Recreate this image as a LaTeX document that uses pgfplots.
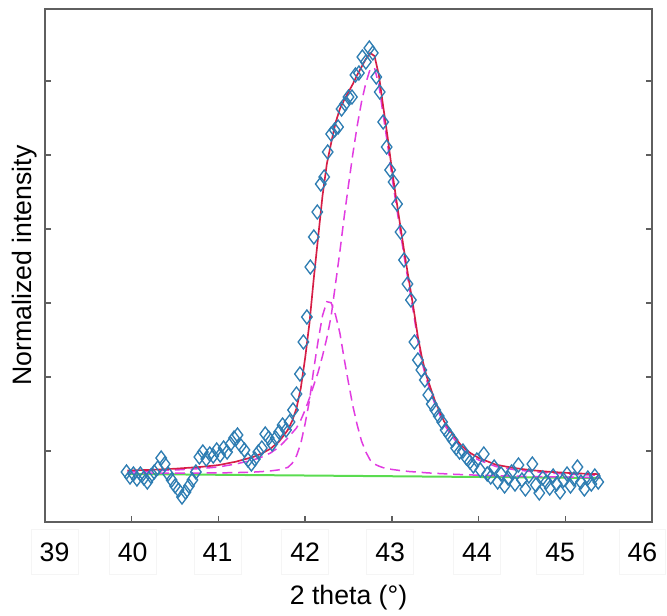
\documentclass[border=0pt]{standalone}
\usepackage{pgfplots}
\pgfplotsset{compat=1.18}
\usepackage{fontspec}
\setmainfont{Liberation Sans}
\definecolor{datablue}{RGB}{46,125,178}
\definecolor{fitred}{RGB}{214,30,70}
\definecolor{peakmag}{RGB}{225,60,225}
\definecolor{basegreen}{RGB}{90,220,80}
\definecolor{axgray}{RGB}{95,95,95}
\begin{document}
\begin{tikzpicture}
\useasboundingbox (-27pt,-55.8pt) rectangle (373.2pt,313.2pt);
\begin{axis}[
  at={(0,0)}, anchor=south west,
  scale only axis, width=364.2pt, height=307.8pt,
  xmin=39, xmax=46, ymin=0, ymax=513,
  /pgf/number format/assume math mode=true,
  axis line style={draw=axgray, line width=1.1pt},
  tick align=inside, major tick length=3.5pt,
  xtick pos=bottom,
  xtick={39.11,40.01,40.99,42.0,42.98,43.98,44.94,45.89},
  xticklabels={39,40,41,42,43,44,45,46},
  xtick style={draw=none},
  xticklabel style={font=\fontsize{16}{19}\selectfont, anchor=center, yshift=-18pt, draw=black!4, minimum width=28pt, minimum height=27pt},
  extra x ticks={40,41,42,43,44,45},
  extra x tick labels={},
  extra x tick style={xtick style={draw=axgray, line width=0.8pt}, xticklabel style={draw=none}},
  ytick={71,145,219,293,367,441},
  yticklabels={},
  ytick style={draw=axgray, line width=0.8pt},
  xlabel={2 theta (°)},
  xlabel style={font=\fontsize{16}{19}\selectfont, at={(axis description cs:0.5,-0.148)}, anchor=center},
  ylabel={Normalized intensity},
  ylabel style={font=\fontsize{16}{19}\selectfont, at={(axis description cs:-0.033,0.5)}, anchor=center},
]
% measured data
\addplot[only marks, mark=diamond, mark size=4.2pt, mark options={draw=datablue, fill=none, line width=0.8pt}] table {
x y
39.94 50
39.98 45
40.02 48
40.06 43
40.10 48
40.14 44
40.18 40
40.22 46
40.26 50
40.30 54
40.34 64
40.38 58
40.42 48
40.46 42
40.50 36
40.54 32
40.58 25
40.62 30
40.66 36
40.70 42
40.74 50
40.78 65
40.82 70
40.86 63
40.90 68
40.94 66
40.98 72
41.02 67
41.06 74
41.10 70
41.14 78
41.18 84
41.22 87
41.26 76
41.30 72
41.34 62
41.38 58
41.42 63
41.46 70
41.50 74
41.54 88
41.58 84
41.62 78
41.66 84
41.70 90
41.74 97
41.78 92
41.82 100
41.86 112
41.90 128
41.94 148
41.98 180
42.02 205
42.06 255
42.10 285
42.14 310
42.18 338
42.22 345
42.26 370
42.30 388
42.34 392
42.38 395
42.42 413
42.46 418
42.50 425
42.54 425
42.58 447
42.62 449
42.66 465
42.70 460
42.74 474
42.78 469
42.82 445
42.86 430
42.90 400
42.94 375
42.98 352
43.02 340
43.06 318
43.10 290
43.14 262
43.18 238
43.22 222
43.26 180
43.30 162
43.34 152
43.38 142
43.42 127
43.46 118
43.50 112
43.54 106
43.58 100
43.62 92
43.66 87
43.70 82
43.74 74
43.78 70
43.82 71
43.86 64
43.90 60
43.94 56
43.98 62
44.02 52
44.06 68
44.10 48
44.14 45
44.18 55
44.22 40
44.26 48
44.30 36
44.34 44
44.38 50
44.42 38
44.46 57
44.50 42
44.54 33
44.58 46
44.62 58
44.66 37
44.70 29
44.74 44
44.78 40
44.82 34
44.86 46
44.90 38
44.94 30
44.98 42
45.02 48
45.06 36
45.10 43
45.14 55
45.18 40
45.22 33
45.26 44
45.30 38
45.34 46
45.38 40
};
% baseline
\addplot[basegreen, line width=1.2pt] coordinates {(39.95,48) (45.4,44)};
% peak 1
\addplot[peakmag, line width=0.9pt, dash pattern=on 6pt off 3.5pt] table {
x y
39.95 50.5
40.2 51
40.5 52
40.8 53.5
41.0 55
41.2 58
41.4 62
41.5 65
41.6 69
41.7 75
41.8 84
41.85 89
41.9 94
41.95 102
42.0 112
42.05 124
42.1 137
42.15 150
42.2 166
42.25 184
42.3 206
42.35 238
42.4 270
42.45 305
42.5 337
42.55 368
42.6 396
42.65 420
42.7 439
42.75 453
42.8 454
42.85 437
42.9 407
42.95 378
43.0 346
43.05 317
43.1 289
43.15 261
43.2 235
43.25 209
43.3 181
43.35 159
43.4 142
43.5 117
43.6 98
43.7 85
43.8 74
43.9 67
44.0 62
44.2 55.5
44.4 52.5
44.6 50.5
44.8 49
45.0 48
45.2 47.3
45.4 46.8
};
% peak 2
\addplot[peakmag, line width=0.9pt, dash pattern=on 6pt off 3.5pt] table {
x y
39.95 49.0
40.2 48.9
40.5 48.9
40.8 49.0
41.0 49.1
41.2 49.4
41.4 49.9
41.5 50.4
41.6 51.1
41.7 52.2
41.8 54.6
41.85 58.6
41.9 66.1
41.95 78.5
42.0 98.5
42.05 121.5
42.1 153.4
42.15 181.4
42.2 206.3
42.25 220.3
42.3 219.3
42.35 207.2
42.4 189.2
42.45 163.2
42.5 139.1
42.55 116.1
42.6 97.1
42.65 81
42.7 70
42.75 61.9
42.8 57.9
42.85 55.9
42.9 54.3
42.95 53.3
43.0 52.6
43.1 51.4
43.2 50.5
43.3 49.9
43.4 49.2
43.5 48.7
43.7 47.8
43.9 47.1
44.2 46.3
44.6 45.5
45.0 44.9
45.4 44.3
};
% fit
\addplot[fitred, line width=1pt] table {
x y
39.95 51.5
40.2 52.1
40.5 53.3
40.8 55.1
41.0 56.9
41.2 60.3
41.4 65
41.5 68.5
41.6 73.3
41.7 80.5
41.8 92
41.85 101
41.9 113.5
41.95 134
42.0 164
42.05 199
42.1 244
42.15 285
42.2 326
42.25 358
42.3 379
42.35 399
42.4 413
42.45 422
42.5 430
42.55 438
42.6 447
42.65 455
42.7 463
42.75 469
42.8 466
42.85 447
42.9 415.5
42.95 385.5
43.0 352.8
43.05 323.2
43.1 294.7
43.15 266.3
43.2 239.9
43.25 213.6
43.3 185.3
43.35 163
43.4 145.8
43.5 120.4
43.6 101
43.7 87.7
43.8 76.5
43.9 69.3
44.0 64.1
44.2 57.3
44.4 54.1
44.6 51.9
44.8 50.3
45.0 49.2
45.2 48.4
45.4 47.8
};
\end{axis}
\end{tikzpicture}
\end{document}
